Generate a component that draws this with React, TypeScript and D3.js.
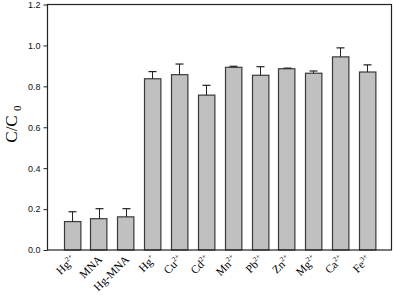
import React, { useEffect, useRef } from 'react';
import * as d3 from 'd3';

// ion labels: base text + superscript
const labels = ['Hg', 'MNA', 'Hg-MNA', 'Hg', 'Cu', 'Cd', 'Mn', 'Pb', 'Zn', 'Mg', 'Ca', 'Fe'];
const supers = ['2+', '', '', '+', '2+', '2+', '2+', '2+', '2+', '2+', '2+', '3+'];
const values = [0.139, 0.153, 0.162, 0.837, 0.857, 0.757, 0.893, 0.854, 0.886, 0.864, 0.944, 0.87];
const errors = [0.048, 0.049, 0.04, 0.035, 0.052, 0.048, 0.005, 0.042, 0.003, 0.011, 0.044, 0.035];
const yTicks = [0, 0.2, 0.4, 0.6, 0.8, 1.0, 1.2];

const W = 394;
const H = 295;
const m = { left: 47.5, right: 2.5, top: 4.5, bottom: 45 };

const App = () => {
  const ref = useRef<SVGSVGElement>(null);

  useEffect(() => {
    const svg = d3.select(ref.current);
    svg.selectAll('*').remove();

    const keys = labels.map((d, i) => d + supers[i] + i);
    const x = d3
      .scaleBand()
      .domain(keys)
      .range([m.left, W - m.right])
      .paddingInner(0.39)
      .paddingOuter(0.6);
    const y = d3.scaleLinear().domain([0, 1.2]).range([H - m.bottom, m.top]);
    const cx = (i: number) => Math.round(x(keys[i])! + x.bandwidth() / 2);

    const g = svg.append('g');

    // bars
    g.selectAll('rect.bar')
      .data(values)
      .enter()
      .append('rect')
      .attr('class', 'bar')
      .attr('x', (_, i) => Math.round(x(keys[i])!) + 0.5)
      .attr('y', (d) => y(d))
      .attr('width', x.bandwidth())
      .attr('height', (d) => y(0) - y(d))
      .attr('fill', '#c0c0c0')
      .attr('stroke', '#3a3a3a')
      .attr('stroke-width', 1.2);

    // error bars (upper only)
    const eb = g.selectAll('g.err').data(values).enter().append('g').attr('class', 'err');
    eb.append('line')
      .attr('x1', (_, i) => cx(i) + 0.5)
      .attr('x2', (_, i) => cx(i) + 0.5)
      .attr('y1', (d) => y(d))
      .attr('y2', (d, i) => y(d + errors[i]))
      .attr('stroke', '#222')
      .attr('stroke-width', 1);
    eb.append('line')
      .attr('x1', (_, i) => cx(i) - 3.5)
      .attr('x2', (_, i) => cx(i) + 4.5)
      .attr('y1', (d, i) => y(d + errors[i]))
      .attr('y2', (d, i) => y(d + errors[i]))
      .attr('stroke', '#222')
      .attr('stroke-width', 1.2);

    // frame
    svg
      .append('rect')
      .attr('x', m.left)
      .attr('y', m.top)
      .attr('width', W - m.left - m.right)
      .attr('height', H - m.top - m.bottom)
      .attr('fill', 'none')
      .attr('stroke', '#222')
      .attr('stroke-width', 1.2);

    // y axis
    const yAxis = d3
      .axisLeft(y)
      .tickValues(yTicks)
      .tickFormat(d3.format('.1f'))
      .tickSize(4)
      .tickPadding(3);
    const ya = svg.append('g').attr('transform', `translate(${m.left},0)`).call(yAxis);
    ya.select('.domain').remove();
    ya.selectAll('line').attr('stroke', '#222');
    ya.selectAll('text')
      .attr('font-family', 'Liberation Sans')
      .attr('font-size', 9)
      .attr('fill', '#111');

    // x labels, rotated 45 degrees; drawn at double size and scaled down
    labels.forEach((lab, i) => {
      const lg = svg
        .append('g')
        .attr('transform', `translate(${cx(i) + 4},${H - m.bottom + 10}) rotate(-45) scale(0.5)`);
      let w = 0;
      if (supers[i]) {
        const st = lg
          .append('text')
          .attr('text-anchor', 'end')
          .attr('y', -9)
          .attr('font-family', 'Liberation Serif')
          .attr('font-size', 14)
          .text(supers[i]);
        w = (st.node() as SVGTextElement).getComputedTextLength();
      }
      lg.append('text')
        .attr('text-anchor', 'end')
        .attr('x', -w)
        .attr('font-family', 'Liberation Serif')
        .attr('font-size', 23)
        .text(lab);
    });

    // y title
    svg
      .append('text')
      .attr('transform', `translate(17,129) rotate(-90)`)
      .attr('text-anchor', 'middle')
      .attr('font-family', 'Liberation Serif')
      .attr('font-size', 17)
      .text('C/C');
    svg
      .append('text')
      .attr('transform', `translate(21,111) rotate(-90)`)
      .attr('font-family', 'Liberation Serif')
      .attr('font-size', 11)
      .text('0');
  }, []);

  return (
    <svg
      ref={ref}
      width={W}
      height={H}
      style={{ position: 'absolute', left: 0, top: 0, background: '#fff' }}
    />
  );
};

export default App;
